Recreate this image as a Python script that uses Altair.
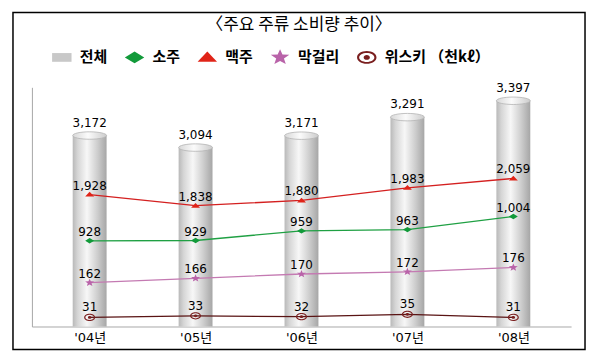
import math
import altair as alt
import pandas as pd

# ---- data ----
title_text = ["〈주요 주류 소비량 추이〉"]
years = ["'04년", "'05년", "'06년", "'07년", "'08년"]
total = [3172, 3094, 3171, 3291, 3397]
soju = [928, 929, 959, 963, 1004]
beer = [1928, 1838, 1880, 1983, 2059]
makgeolli = [162, 166, 170, 172, 176]
whisky = [31, 33, 32, 35, 31]
series_names = ["전체", "소주", "맥주", "막걸리", "위스키 （천kℓ）"]

# ---- styling ----
series_colors = ["#c8c8c8", "#129a3a", "#e02418", "#b963a9", "#7a1f1f"]
line_colors = {"소주": "#1fa043", "맥주": "#d42020", "막걸리": "#c47ab2", "위스키 （천kℓ）": "#5a1414"}

def star_path(ys=0.85):
    pts = []
    for i in range(10):
        r = 1.0 if i % 2 == 0 else 0.42
        a = -math.pi / 2 + i * math.pi / 5
        pts.append((r * math.cos(a), r * math.sin(a) * ys))
    return "M" + "L".join(f"{x:.3f},{y:.3f}" for x, y in pts) + "Z"

rect_path = "M-1,-0.45H1V0.45H-1Z"
diamond_path = "M-1,0L0,-0.6L1,0L0,0.6Z"
tri_path = "M-1,0.45L0,-0.6L1,0.45Z"
ring_path = ("M-1,0A1,0.65 0 1,1 1,0A1,0.65 0 1,1 -1,0Z"
             "M-0.78,0A0.78,0.46 0 1,0 0.78,0A0.78,0.46 0 1,0 -0.78,0Z"
             "M-0.32,0A0.32,0.24 0 1,1 0.32,0A0.32,0.24 0 1,1 -0.32,0Z")
shapes = [rect_path, diamond_path, tri_path, star_path(), ring_path]

W, H = 574, 338
x_range = [19, 560]
y_range = [315, 75]

df = pd.DataFrame({"year": years, "total": total, "soju": soju, "beer": beer,
                   "makgeolli": makgeolli, "whisky": whisky})

X = alt.X("year:N", sort=years,
          scale=alt.Scale(type="point", range=x_range, padding=0.545),
          axis=alt.Axis(title=None, ticks=False, grid=False, domainColor="#a8a8a8",
                        labelFont="DejaVu Sans, Noto Sans CJK KR", labelFontSize=13,
                        labelColor="black", labelPadding=5, labelAngle=0, offset=-23))

color_scale = alt.Scale(domain=series_names, range=series_colors)
shape_scale = alt.Scale(domain=series_names, range=shapes)
legend = alt.Legend(title=None, orient="none", legendX=39, legendY=35, direction="horizontal",
                    symbolSize=380, symbolStrokeWidth=0, symbolOpacity=1,
                    labelFont="Noto Sans CJK KR", labelFontSize=15, labelFontWeight="bold",
                    labelColor="black", labelOffset=8, columnPadding=17, padding=0)

# ---- bars (cylinders) ----
bar_dom = [1936, 3484]
Yb = alt.Y("total:Q", scale=alt.Scale(domain=bar_dom, range=y_range, zero=False),
           axis=alt.Axis(title=None, labels=False, ticks=False, grid=False,
                         domainColor="#a8a8a8", offset=-19))
cyl = alt.LinearGradient(gradient="linear", x1=0, x2=1, y1=0, y2=0, stops=[
    alt.GradientStop(offset=0, color="#b9b9b9"),
    alt.GradientStop(offset=0.15, color="#d6d6d6"),
    alt.GradientStop(offset=0.42, color="#f7f7f7"),
    alt.GradientStop(offset=0.72, color="#cfcfcf"),
    alt.GradientStop(offset=1, color="#a6a6a6")])
cap = alt.LinearGradient(gradient="linear", x1=0, x2=1, y1=0, y2=0, stops=[
    alt.GradientStop(offset=0, color="#d8d8d8"),
    alt.GradientStop(offset=0.45, color="#fbfbfb"),
    alt.GradientStop(offset=1, color="#cccccc")])

bars = alt.Chart(df).mark_bar(size=34, color=cyl).encode(x=X, y=Yb, y2=alt.datum(bar_dom[0]))
caps = alt.Chart(df).mark_point(shape="M-1,0A1,0.22 0 1,0 1,0A1,0.22 0 1,0 -1,0Z", size=1156,
                                filled=True, fill=cap, stroke="#b4b4b4", strokeWidth=0.8,
                                opacity=1).encode(x=X, y=Yb)
bar_txt = alt.Chart(df).mark_text(dy=-13, font="DejaVu Sans", fontSize=12, color="black").encode(
    x=X, y=Yb, text=alt.Text("total:Q", format=","))
bar_layer = alt.layer(bars, caps, bar_txt)

def series_layer(col, name, dom, size, dy):
    d = df[["year", col]].copy()
    d["series"] = name
    Y = alt.Y(f"{col}:Q", scale=alt.Scale(domain=dom, range=y_range, zero=False), axis=None)
    base = alt.Chart(d)
    line = base.mark_line(color=line_colors[name], strokeWidth=1.3).encode(x=X, y=Y)
    pts = base.mark_point(filled=True, opacity=1, size=size, strokeWidth=0).encode(
        x=X, y=Y,
        color=alt.Color("series:N", scale=color_scale, legend=legend),
        shape=alt.Shape("series:N", scale=shape_scale, legend=legend))
    txt = base.mark_text(dy=dy, font="DejaVu Sans", fontSize=12, color="black").encode(
        x=X, y=Y, text=alt.Text(f"{col}:Q", format=","))
    return alt.layer(line, pts, txt)

beer_l = series_layer("beer", "맥주", [855, 2800], 81, -9)
soju_l = series_layer("soju", "소주", [660, 1408], 81, -9)
mak_l = series_layer("makgeolli", "막걸리", [121.8, 341.4], 90, -9)
wh_l = series_layer("whisky", "위스키 （천kℓ）", [19.1, 331.6], 121, -10)

title = alt.Chart(pd.DataFrame({"t": title_text})).mark_text(
    font="Noto Sans CJK KR", fontSize=17, color="black").encode(
    x=alt.value(287), y=alt.value(12), text="t:N")

chart = alt.layer(bar_layer, beer_l, soju_l, mak_l, wh_l, title).resolve_scale(
    y="independent").properties(
    width=W, height=H, padding={"left": 5, "top": 4, "right": 5, "bottom": 5}
).configure_view(stroke="black", strokeWidth=1.5)

chart.save("out.html", embed_options={"renderer": "svg", "actions": False})
